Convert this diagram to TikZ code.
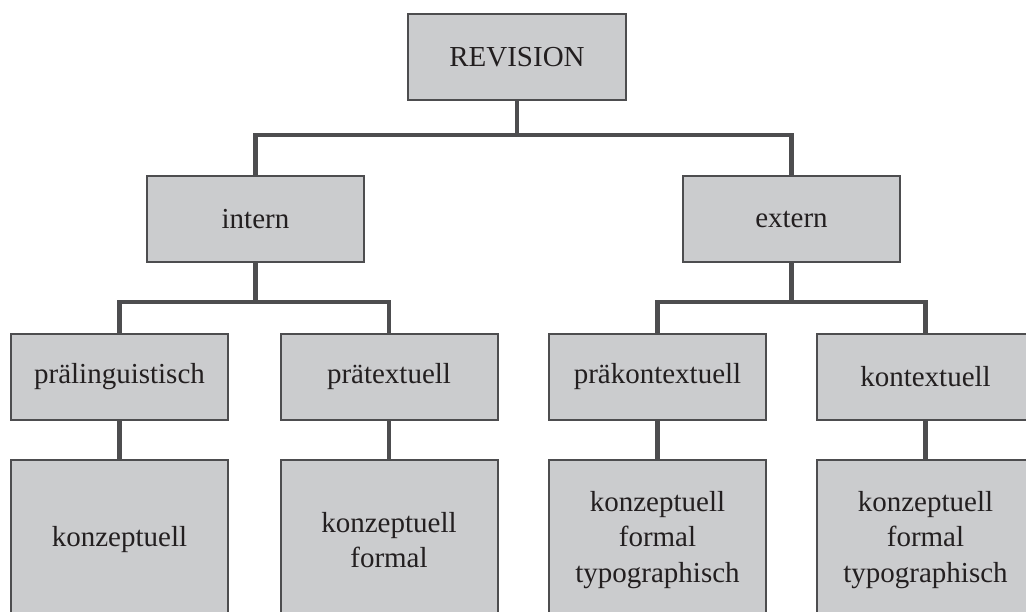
\documentclass[tikz,border=0pt]{standalone}
\usepackage{fontspec}
\setmainfont{Liberation Serif}
\definecolor{boxfill}{HTML}{CBCCCE}
\definecolor{boxline}{HTML}{4D4D4F}
\definecolor{inkdark}{HTML}{231F20}
\begin{document}
\begin{tikzpicture}[x=1pt,y=-1pt,
  catbox/.style={draw=boxline, fill=boxfill, line width=2pt, inner sep=0pt,
    minimum width=217pt, minimum height=86pt, text=inkdark, align=center,
    font=\fontsize{29}{35.5}\selectfont},
  leafbox/.style={catbox, minimum height=160pt},
  link/.style={draw=boxline, line width=4.5pt, line join=miter}]
\useasboundingbox (0,0) rectangle (1026,612);
\clip (0,0) rectangle (1026,612);

% top level
\node[catbox, minimum width=218pt] (rev) at (517,57) {REVISION};

% second level
\node[catbox] (intern) at (255.5,219) {intern};
\node[catbox] (extern) at (791.5,219) {extern};

% third level
\node[catbox] (pl) at (119.5,377) {prälinguistisch};
\node[catbox] (pt) at (389,377) {prätextuell};
\node[catbox] (pk) at (657.5,377) {präkontextuell};
\node[catbox] (kt) at (925.5,377) {kontextuell};

% leaves
\node[leafbox] (pl4) at (119.5,540) {konzeptuell};
\node[leafbox] (pt4) at (389,540) {konzeptuell\\formal};
\node[leafbox] (pk4) at (657.5,540) {konzeptuell\\formal\\typographisch};
\node[leafbox] (kt4) at (925.5,540) {konzeptuell\\formal\\typographisch};

% branching bars
\coordinate (b0) at (517,135);
\coordinate (b1) at (255.5,302);
\coordinate (b2) at (791.5,302);

\draw[link] (rev.south) -- (b0);
\draw[link] (intern.north) |- (b0) -| (extern.north);

\draw[link] (intern.south) -- (b1);
\draw[link] (pl.north) |- (b1) -| (pt.north);

\draw[link] (extern.south) -- (b2);
\draw[link] (pk.north) |- (b2) -| (kt.north);

\draw[link] (pl.south) -- (pl4.north);
\draw[link] (pt.south) -- (pt4.north);
\draw[link] (pk.south) -- (pk4.north);
\draw[link] (kt.south) -- (kt4.north);
\end{tikzpicture}
\end{document}
